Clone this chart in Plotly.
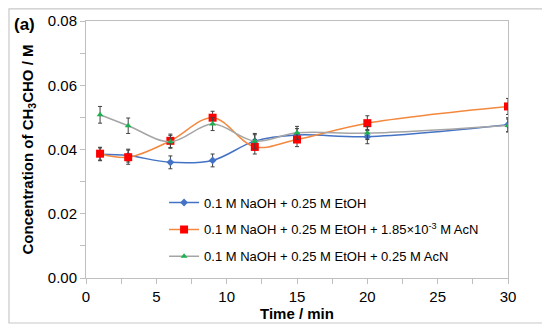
import plotly.graph_objects as go

time_min = [1, 3, 6, 9, 12, 15, 20, 30]

naoh_etoh = [0.0385, 0.0381, 0.0360, 0.0366, 0.0426, 0.0445, 0.0440, 0.0477]
naoh_etoh_err = [0.0020, 0.0020, 0.0020, 0.0020, 0.0020, 0.0020, 0.0022, 0.0022]

naoh_etoh_acn_low = [0.0387, 0.0376, 0.0427, 0.0499, 0.0408, 0.0431, 0.0482, 0.0534]
naoh_etoh_acn_low_err = [0.0020, 0.0022, 0.0021, 0.0020, 0.0022, 0.0022, 0.0023, 0.0025]

naoh_etoh_acn_high = [0.0508, 0.0474, 0.0424, 0.0479, 0.0426, 0.0452, 0.0451, 0.0475]
naoh_etoh_acn_high_err = [0.0026, 0.0024, 0.0020, 0.0020, 0.0024, 0.0020, 0.0020, 0.0020]

names = [
    "0.1 M NaOH + 0.25 M EtOH",
    "0.1 M NaOH + 0.25 M EtOH + 1.85×10<sup>-3</sup> M AcN",
    "0.1 M NaOH + 0.25 M EtOH + 0.25 M AcN",
]

fig = go.Figure()

series = [
    (naoh_etoh, naoh_etoh_err, names[0], "#4472C4", "#4472C4", "diamond", 6),
    (naoh_etoh_acn_low, naoh_etoh_acn_low_err, names[1], "#F4883E", "#FF0000", "square", 8),
    (naoh_etoh_acn_high, naoh_etoh_acn_high_err, names[2], "#A5A5A5", "#1DB050", "triangle-up", 6),
]

for i, (vals, errs, name, lc, mc, sym, ms) in enumerate(series):
    fig.add_trace(go.Scatter(
        x=time_min, y=vals, name=name, mode="lines+markers",
        line=dict(color=lc, width=1.5, shape="spline", smoothing=1.0),
        marker=dict(color=mc, symbol=sym, size=ms, line=dict(width=0)),
        error_y=dict(type="data", array=errs, visible=True, color="#404040",
                     thickness=1, width=2),
        legendgroup=f"g{i}",
    ))

fig.add_shape(type="rect", xref="paper", yref="paper",
              x0=-0.1825, x1=1.083, y0=-0.175, y1=1.047,
              line=dict(color="#C8C8C8", width=1.2), layer="below")

fig.add_annotation(text="<b>(a)</b>", xref="paper", yref="paper",
                   x=-0.175, y=0.985, xanchor="left", yanchor="middle",
                   showarrow=False, font=dict(size=17, color="#000000"))

fig.update_layout(
    width=550, height=333,
    margin=dict(l=78, r=50, t=13, b=63, autoexpand=False),
    paper_bgcolor="white", plot_bgcolor="white",
    font=dict(family="Liberation Sans, Arial, sans-serif", size=15, color="#000000"),
    showlegend=True,
    legend=dict(x=0.185, y=0.352, xanchor="left", yanchor="top",
                font=dict(size=13), bgcolor="rgba(0,0,0,0)",
                tracegroupgap=7, itemwidth=30, traceorder="grouped"),
    xaxis=dict(range=[0, 30], tickvals=[0, 5, 10, 15, 20, 25, 30],
               showgrid=False, zeroline=False, showline=True,
               linecolor="#BFBFBF", linewidth=1, mirror=True,
               ticks="outside", ticklen=5, tickcolor="#BFBFBF",
               minor=dict(dtick=2.5, ticks="outside", ticklen=5, tickcolor="#BFBFBF"),
               title=dict(text="<b>Time / min</b>", font=dict(size=15), standoff=4),
               tickfont=dict(size=15), automargin=False),
    yaxis=dict(range=[0, 0.08], tickvals=[0, 0.02, 0.04, 0.06, 0.08],
               tickformat=".2f",
               showgrid=False, zeroline=False, showline=True,
               linecolor="#BFBFBF", linewidth=1, mirror=True,
               ticks="outside", ticklen=5, tickcolor="#BFBFBF",
               minor=dict(dtick=0.01, ticks="outside", ticklen=5, tickcolor="#BFBFBF"),
               title=dict(text="<b>Concentration of CH<sub>3</sub>CHO / M</b>",
                          font=dict(size=15), standoff=10),
               tickfont=dict(size=15), automargin=False),
)

fig.write_html("out.html")
